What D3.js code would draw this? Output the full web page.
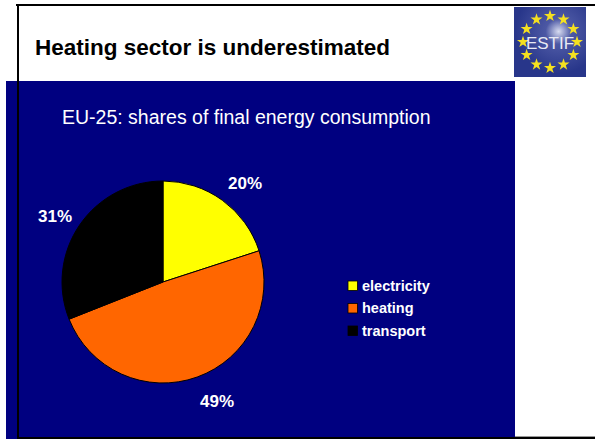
<!DOCTYPE html>
<html lang="en">
<head>
    <meta charset="utf-8" />
    <title>Heating sector is underestimated</title>
    <script src="https://d3js.org/d3.v7.min.js"></script>
    <style>
        body { margin: 0; background: #fff; }
        text { font-family: Arial, "Liberation Sans", sans-serif; }
    </style>
</head>
<body>
    <script>
        // data
        var sectors = ["electricity", "heating", "transport"];
        var shares = [20, 49, 31];
        var colors = ["#ffff00", "#ff6600", "#000000"];

        var width = 595, height = 439;

        var svg = d3.select("body").append("svg")
            .attr("width", width)
            .attr("height", height);

        // navy panel
        svg.append("rect")
            .attr("x", 6).attr("y", 81)
            .attr("width", 509).attr("height", 358)
            .attr("fill", "#000080");

        // slide frame lines
        svg.append("rect").attr("x", 16).attr("y", 4).attr("width", 579).attr("height", 2).attr("fill", "#000");
        svg.append("rect").attr("x", 17).attr("y", 4).attr("width", 2).attr("height", 435).attr("fill", "#000");
        svg.append("rect").attr("x", 17).attr("y", 437).attr("width", 578).attr("height", 2).attr("fill", "#000");
        svg.append("rect").attr("x", 515).attr("y", 436).attr("width", 80).attr("height", 1).attr("fill", "#999");

        // title
        svg.append("text")
            .attr("x", 35).attr("y", 55)
            .attr("font-size", 22.5).attr("font-weight", "bold")
            .attr("fill", "#000")
            .text("Heating sector is underestimated");

        // logo
        var logo = svg.append("g").attr("transform", "translate(514,7)");
        var defs = svg.append("defs");
        var grad = defs.append("radialGradient").attr("id", "glow")
            .attr("cx", "0.62").attr("cy", "0.35").attr("r", "0.6");
        grad.append("stop").attr("offset", "0").attr("stop-color", "#d8dcf0");
        grad.append("stop").attr("offset", "0.3").attr("stop-color", "#4c58a4");
        grad.append("stop").attr("offset", "1").attr("stop-color", "#28368a");
        logo.append("rect").attr("width", 72).attr("height", 70).attr("fill", "url(#glow)");
        d3.range(12).forEach(function (i) {
            var a = i / 12 * 2 * Math.PI;
            logo.append("path")
                .attr("d", d3.symbol().type(d3.symbolStar).size(45)())
                .attr("transform", "translate(" + (36 + 27 * Math.sin(a)) + "," + (35 - 26 * Math.cos(a)) + ")")
                .attr("fill", "#f4e020");
        });
        logo.append("text")
            .attr("x", 36).attr("y", 42)
            .attr("text-anchor", "middle")
            .attr("font-size", 17)
            .attr("fill", "#e8eaf4")
            .text("ESTIF");

        // subtitle
        svg.append("text")
            .attr("x", 62).attr("y", 124)
            .attr("font-size", 19.5)
            .attr("fill", "#fff")
            .text("EU-25: shares of final energy consumption");

        // pie
        var cx = 163, cy = 282, r = 101;
        var pie = d3.pie().sort(null)(shares);
        var arc = d3.arc().innerRadius(0).outerRadius(r);

        var g = svg.append("g").attr("transform", "translate(" + cx + "," + cy + ")");
        g.selectAll("path")
            .data(pie)
            .enter().append("path")
            .attr("d", arc)
            .attr("fill", function (d, i) { return colors[i]; })
            .attr("stroke", "#000")
            .attr("stroke-width", 1);

        // percentage labels outside the pie
        var labelPos = [[245, 189], [217, 407], [55, 222]];
        g.selectAll("text.pct")
            .data(pie)
            .enter().append("text")
            .attr("class", "pct")
            .attr("x", function (d, i) { return labelPos[i][0] - cx; })
            .attr("y", function (d, i) { return labelPos[i][1] - cy; })
            .attr("text-anchor", "middle")
            .attr("font-size", 17).attr("font-weight", "bold")
            .attr("fill", "#fff")
            .text(function (d) { return d.data + "%"; });

        // legend
        var y = d3.scalePoint().domain(sectors).range([281, 326]);
        var lg = svg.append("g");
        lg.selectAll("rect")
            .data(sectors)
            .enter().append("rect")
            .attr("x", 348)
            .attr("y", function (d) { return y(d); })
            .attr("width", 9.5).attr("height", 9.5)
            .attr("fill", function (d, i) { return colors[i]; })
            .attr("stroke", "#000").attr("stroke-width", 0.8);
        lg.selectAll("text")
            .data(sectors)
            .enter().append("text")
            .attr("x", 362)
            .attr("y", function (d) { return y(d) + 9.5; })
            .attr("font-size", 14.5).attr("font-weight", "bold")
            .attr("fill", "#fff")
            .text(function (d) { return d; });
    </script>
</body>
</html>
